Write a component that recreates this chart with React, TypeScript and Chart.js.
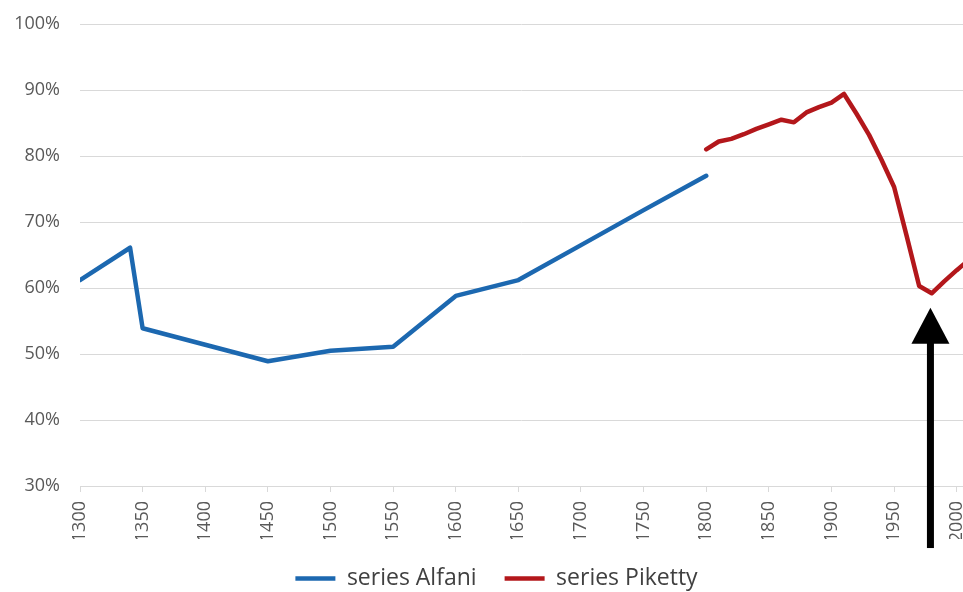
import React, { useEffect, useRef } from "react";
import { Chart, registerables } from "chart.js";

Chart.register(...registerables);

// ---- data ----
const alfaniYears = [1300, 1340, 1350, 1400, 1450, 1500, 1550, 1600, 1650, 1700, 1750, 1800];
const alfaniShare = [61.2, 66.1, 53.9, 51.4, 48.9, 50.5, 51.1, 58.8, 61.2, 66.5, 71.8, 77.0];

const pikettyYears = [
  1800, 1810, 1820, 1830, 1840, 1850, 1860, 1870, 1880, 1890, 1900,
  1910, 1920, 1930, 1940, 1950, 1960, 1970, 1980, 1990, 2000, 2010,
];
const pikettyShare = [
  81.0, 82.2, 82.6, 83.3, 84.1, 84.8, 85.5, 85.1, 86.6, 87.4, 88.1,
  89.4, 86.4, 83.2, 79.4, 75.3, 67.9, 60.3, 59.2, 61.0, 62.7, 64.3,
];

const seriesNames = ["series Alfani", "series Piketty"];

const xTickYears = [
  1300, 1350, 1400, 1450, 1500, 1550, 1600, 1650, 1700, 1750, 1800,
  1850, 1900, 1950, 2000,
];
const xMin = 1300;
const xMax = 2005;
const yMin = 30;
const yMax = 100;
const yStep = 10;

// arrow annotation (year, tip share, base share)
const arrowYear = 1979;
const arrowTipShare = 57;
const arrowBaseShare = 20.6;

const FONT = "'Open Sans', 'DejaVu Sans', sans-serif";
const TICK_COLOR = "#595959";
const GRID_COLOR = "#d9d9d9";
const BLUE = "#1c68b0";
const RED = "#b3171b";

const arrowPlugin = {
  id: "arrowPlugin",
  afterDraw(chart: any) {
    const { ctx, scales } = chart;
    const x = scales.x;
    const y = scales.y;
    const px = x.getPixelForValue(arrowYear);
    const tip = y.getPixelForValue(arrowTipShare);
    const base = y.getPixelForValue(arrowBaseShare);
    const headLen = 36;
    const headHalf = 19;
    const shaft = 7;
    ctx.save();
    ctx.fillStyle = "#000000";
    ctx.fillRect(px - shaft / 2, tip + headLen - 1, shaft, base - tip - headLen + 1);
    ctx.beginPath();
    ctx.moveTo(px, tip);
    ctx.lineTo(px + headHalf, tip + headLen);
    ctx.lineTo(px - headHalf, tip + headLen);
    ctx.closePath();
    ctx.fill();
    ctx.restore();
  },
};

const legendShiftPlugin = {
  id: "legendShift",
  afterLayout(chart: any) {
    const lg = chart.legend;
    if (lg) {
      lg.left += 15;
      lg.right += 15;
    }
  },
};

export default function App() {
  const canvasRef = useRef<HTMLCanvasElement | null>(null);

  useEffect(() => {
    if (!canvasRef.current) return;
    const chart = new Chart(canvasRef.current, {
      type: "line",
      data: {
        datasets: [
          {
            label: seriesNames[0],
            data: alfaniYears.map((yr, i) => ({ x: yr, y: alfaniShare[i] })),
            borderColor: BLUE,
            backgroundColor: BLUE,
            borderWidth: 4.5,
            pointRadius: 0,
            tension: 0,
            borderJoinStyle: "round",
            borderCapStyle: "round",
          },
          {
            label: seriesNames[1],
            data: pikettyYears.map((yr, i) => ({ x: yr, y: pikettyShare[i] })),
            borderColor: RED,
            backgroundColor: RED,
            borderWidth: 4.5,
            pointRadius: 0,
            tension: 0,
            borderJoinStyle: "round",
            borderCapStyle: "round",
          },
        ],
      },
      options: {
        animation: false,
        responsive: false,
        devicePixelRatio: 1,
        events: [],
        layout: { padding: { top: 24, left: 0, right: 0, bottom: 0 } },
        plugins: {
          tooltip: { enabled: false },
          legend: {
            position: "bottom",
            labels: {
              usePointStyle: true,
              pointStyle: "line",
              pointStyleWidth: 40,
              boxHeight: 5,
              padding: 28,
              color: "#404040",
              font: { family: FONT, size: 23 },
            },
          },
        },
        scales: {
          x: {
            type: "linear",
            min: xMin,
            max: xMax,
            afterBuildTicks: (s: any) => {
              s.ticks = xTickYears.map((v) => ({ value: v }));
            },
            afterFit: (s: any) => {
              s.height = 53;
              s.paddingLeft = 0;
              s.paddingRight = 0;
            },
            ticks: {
              minRotation: 90,
              maxRotation: 90,
              autoSkip: false,
              padding: 9,
              color: TICK_COLOR,
              font: { family: FONT, size: 18 },
              callback: (v: any) => String(v),
            },
            grid: {
              drawOnChartArea: false,
              drawTicks: true,
              tickLength: 6,
              color: GRID_COLOR,
            },
            border: { display: true, color: GRID_COLOR },
          },
          y: {
            min: yMin,
            max: yMax,
            afterFit: (s: any) => {
              s.width = 80;
              s.paddingTop = 0;
              s.paddingBottom = 0;
            },
            ticks: {
              stepSize: yStep,
              padding: 20,
              color: TICK_COLOR,
              font: { family: FONT, size: 18 },
              callback: (v: any) => v + "%",
            },
            grid: { color: GRID_COLOR, drawTicks: false, lineWidth: 1 },
            border: { display: false },
          },
        },
      },
      plugins: [arrowPlugin, legendShiftPlugin],
    } as any);
    return () => chart.destroy();
  }, []);

  return (
    <div
      style={{
        position: "absolute",
        left: 0,
        top: 0,
        width: 963,
        height: 592,
        overflow: "hidden",
        background: "#ffffff",
      }}
    >
      <canvas ref={canvasRef} width={963} height={600} style={{ display: "block" }} />
    </div>
  );
}
